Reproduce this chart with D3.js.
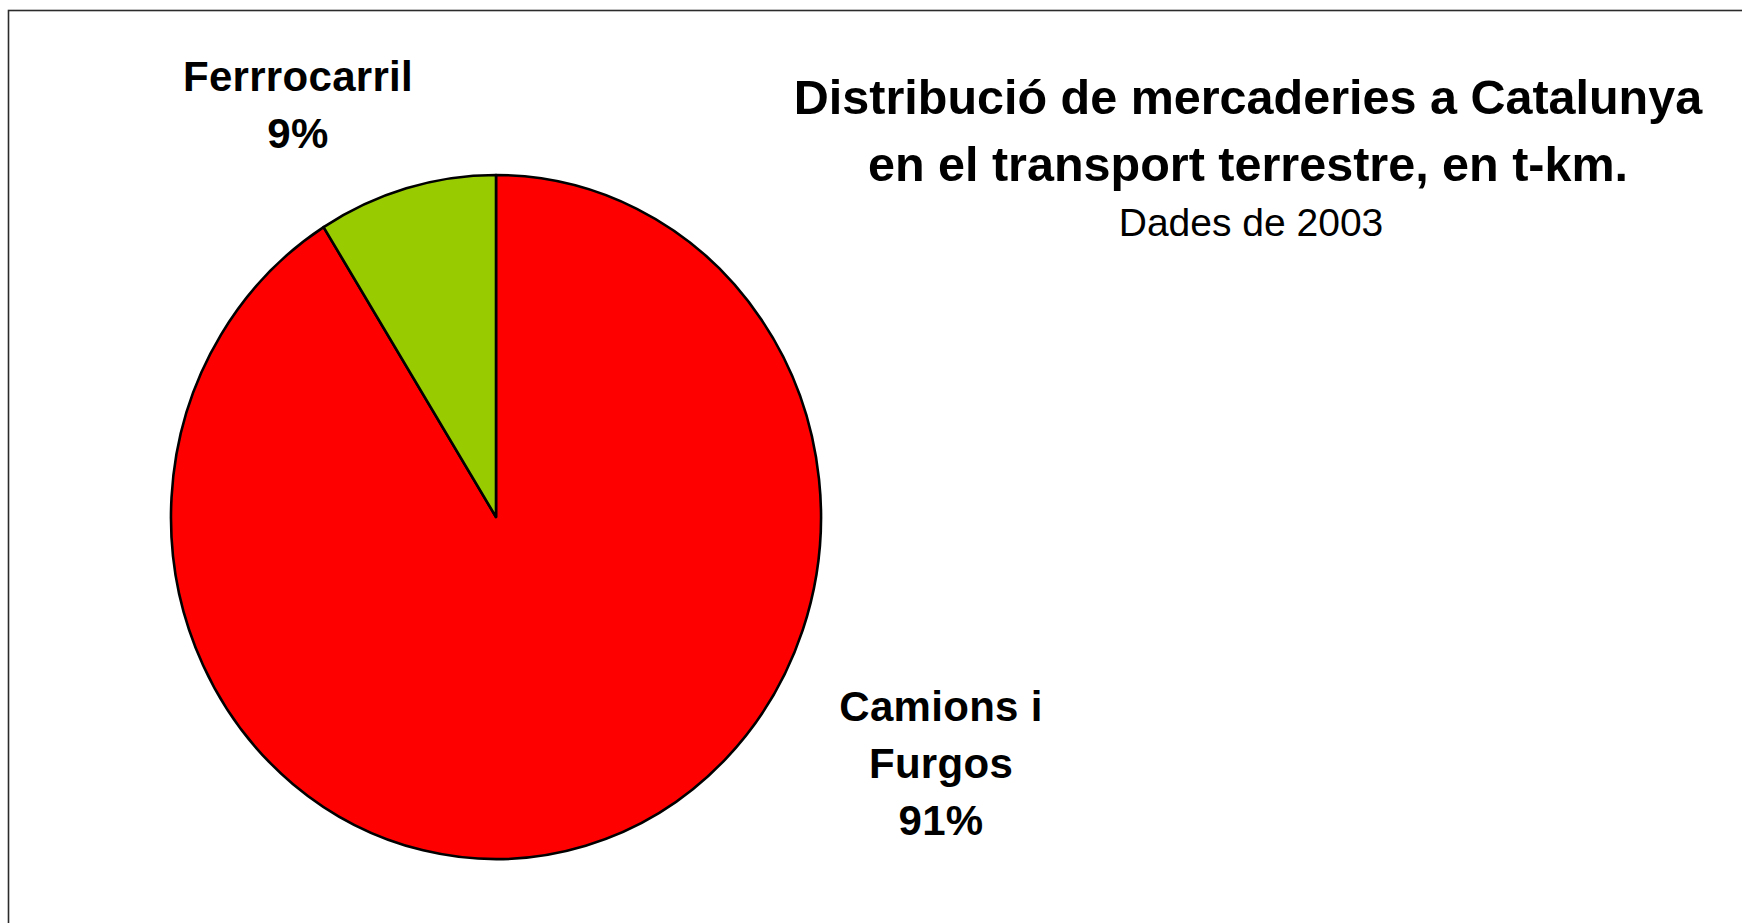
<!DOCTYPE html>
<html>
<head>
<meta charset="utf-8">
<script src="https://cdn.jsdelivr.net/npm/d3@7"></script>
<style>
  html, body { margin: 0; padding: 0; background: #fff; overflow: hidden; }
  svg { display: block; }
  text { font-family: "Liberation Sans", Arial, sans-serif; fill: #000; }
</style>
</head>
<body>
<svg id="chart" width="1742" height="923"></svg>
<script>
// Data
const categories = ["Camions i Furgos", "Ferrrocarril"];
const values = [91.1, 8.9];
const colors = ["#FF0000", "#99CC00"];
const labelLines = [["Camions i", "Furgos"], ["Ferrrocarril"]];
const titleLines = ["Distribució de mercaderies a Catalunya", "en el transport terrestre, en t-km."];
const subtitle = "Dades de 2003";

const svg = d3.select("#chart");
const W = 1742, H = 923;

// frame (extends beyond right/bottom edge)
svg.append("rect")
  .attr("x", 8.5).attr("y", 10.5)
  .attr("width", W + 20).attr("height", H + 20)
  .attr("fill", "#fff")
  .attr("stroke", "#2b2b2b").attr("stroke-width", 1.6);

// pie (slightly elliptical)
const cx = 496, cy = 517, rx = 325, ry = 342;
const pie = d3.pie().sort(null).value(d => d.v);
const data = categories.map((c, i) => ({ c, v: values[i], color: colors[i], lines: labelLines[i] }));
const arcs = pie(data);
const arc = d3.arc().innerRadius(0).outerRadius(ry);

const g = svg.append("g").attr("transform", `translate(${cx},${cy}) scale(${rx / ry},1)`);
g.selectAll("path").data(arcs).join("path")
  .attr("d", arc)
  .attr("fill", d => d.data.color)
  .attr("stroke", "#000")
  .attr("stroke-width", 2.6)
  .attr("stroke-linejoin", "round")
  .attr("vector-effect", "non-scaling-stroke");

// labels
const total = d3.sum(values);
const labelPos = [
  { x: 941, y: 721 },
  { x: 298, y: 91 }
];
const lineH = 57;
arcs.forEach((a, i) => {
  const lines = a.data.lines.concat([Math.round(a.data.v / total * 100) + "%"]);
  const t = svg.append("text")
    .attr("text-anchor", "middle")
    .attr("font-weight", "bold")
    .attr("font-size", 42)
    .attr("letter-spacing", 0.3);
  lines.forEach((l, j) => {
    t.append("tspan").attr("x", labelPos[i].x).attr("y", labelPos[i].y + j * lineH).text(l);
  });
});

// title
const title = svg.append("text")
  .attr("text-anchor", "middle")
  .attr("font-weight", "bold")
  .attr("font-size", 48.5);
titleLines.forEach((l, j) => {
  title.append("tspan").attr("x", 1248).attr("y", 114 + j * 67).text(l);
});
svg.append("text")
  .attr("text-anchor", "middle")
  .attr("font-size", 39)
  .attr("x", 1251).attr("y", 236)
  .text(subtitle);
</script>
</body>
</html>
